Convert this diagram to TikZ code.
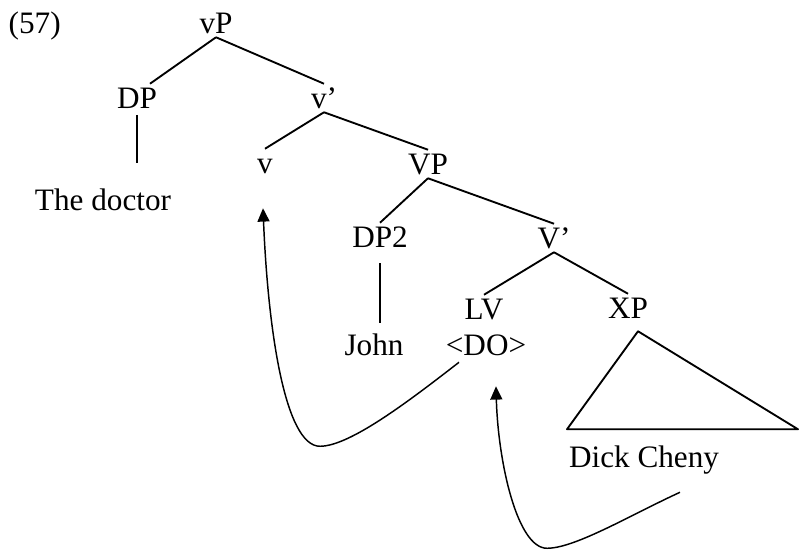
\documentclass[tikz,border=0pt]{standalone}
\usepackage{fontspec}
\setmainfont{Liberation Serif}
\usetikzlibrary{positioning,arrows.meta}
\tikzset{
    syn/.style = {
        inner xsep=2pt,
        inner ysep=2pt,
        text height=16pt,
        text depth=1pt,
        },
    branch/.style = {
        line width=1.4pt,
        line join=round,
        },
    stem/.style = {
        line width=1pt,
        },
    movement/.style = {
        line width=1.1pt,
        -{Triangle[length=10pt,width=9pt]},
        },
}
\begin{document}
\begin{tikzpicture}[font=\fontsize{23.4pt}{28pt}\selectfont, on grid]
    \useasboundingbox (0,0) rectangle (599.25pt,-412.5pt);

    \node[syn] (vP) at (162pt,-17.25pt) {vP};
    \node[syn, left=136pt of vP] (ex) {(57)};
    \node[syn, below left=56.25pt and 59.25pt of vP] (DP) {DP};
    \node[syn, below right=56.25pt and 81pt of vP] (v1) {v'};
    \node[syn, below left=76.5pt and 25.5pt of DP] (doctor) {The doctor};
    \node[syn, below left=48.75pt and 44.25pt of v1] (v) {v};
    \node[syn, below right=49.5pt and 78pt of v1] (VP) {VP};
    \node[syn, below left=54.75pt and 36pt of VP] (DP2) {DP2};
    \node[syn, below right=55.5pt and 94.5pt of VP] (V1) {V'};
    \node[syn, below left=81pt and 4.5pt of DP2] (John) {John};
    \node[syn, below left=53.25pt and 52.5pt of V1] (LV) {LV};
    \node[syn, below right=52.5pt and 55.5pt of V1] (XP) {XP};
    \node[syn, below right=27pt and 1.5pt of LV] (DO) {<DO>};
    \node[syn, below right=111.75pt and 12pt of XP] (Cheny) {Dick Cheny};

    \draw[branch] (vP.south) -- ([xshift=9.75pt]DP.north);
    \draw[branch] (vP.south) -- (v1.north);
    \draw[stem, shorten <=2pt, shorten >=17pt] (DP.south) -- (DP.south |- doctor.north);
    \draw[branch] (v1.south) -- (v.north);
    \draw[branch] (v1.south) -- (VP.north);
    \draw[branch] (VP.south) -- (DP2.north);
    \draw[branch] (VP.south) -- (V1.north);
    \draw[stem, shorten <=9pt, shorten >=6pt] (DP2.south) -- (DP2.south |- John.north);
    \draw[branch] (V1.south) -- (LV.north);
    \draw[branch] (V1.south) -- (XP.north);

    % triangle over the XP
    \coordinate (apex) at ([shift={(7.5pt,-6.75pt)}]XP.south);
    \draw[branch] (apex) -- ++(-53.25pt,-73.5pt) -- ++(173.25pt,0pt) -- cycle;

    % movement arrows
    \coordinate (bend1) at ([shift={(-124.5pt,-65.25pt)}]DO.south);
    \coordinate (bend2) at ([shift={(45.75pt,-141.75pt)}]DO.south);
    \draw[movement] ([shift={(-20.25pt,-2.25pt)}]DO.south)
        .. controls +(-36.75pt,-28.5pt) and +(22.5pt,0pt) .. (bend1)
        .. controls +(-26.25pt,0pt) and +(3.75pt,-91.5pt) .. ([shift={(-1.5pt,-23.25pt)}]v.south);
    \draw[movement] ([shift={(27pt,-15.75pt)}]Cheny.south)
        .. controls +(-37.5pt,-17.25pt) and +(21pt,0pt) .. (bend2)
        .. controls +(-22.5pt,0pt) and +(1.5pt,-56.25pt) .. ([shift={(7.5pt,-20.25pt)}]DO.south);
\end{tikzpicture}
\end{document}
